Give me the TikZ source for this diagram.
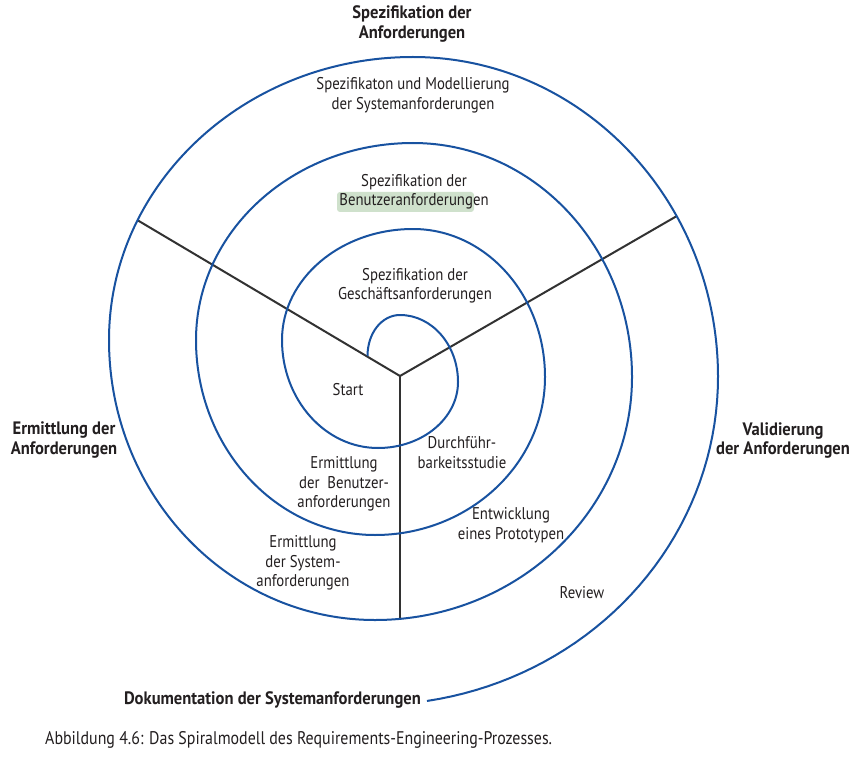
\documentclass[tikz,border=0pt]{standalone}
\usepackage{fontspec}
\setmainfont[FakeStretch=0.87]{PT Sans}
\newfontface\bsans[FakeStretch=0.92]{PT Sans Bold}
\definecolor{spiralc}{RGB}{24,82,160}
\definecolor{rayc}{RGB}{50,50,50}
\definecolor{txtc}{RGB}{35,31,32}
\definecolor{hlc}{RGB}{207,225,204}
\begin{document}
\begin{tikzpicture}[x=1pt,y=-1pt,
  spiralline/.style={draw=spiralc,line width=2pt},
  rayline/.style={draw=rayc,line width=2pt},
  lbl/.style={font=\fontsize{17}{19.5}\selectfont,align=center,inner sep=0pt,text=txtc},
  blbl/.style={font=\fontsize{18}{19.5}\selectfont\bsans,align=center,inner sep=0pt,text=txtc}]
\useasboundingbox (0,0) rectangle (858,767);
\fill[white] (0,0) rectangle (858,767);
% highlight
\fill[hlc,rounded corners=3pt] (337,192) rectangle (474,212);
% radial lines
\coordinate (O) at (400,376);
\coordinate (eL) at (138,220.5);
\coordinate (eR) at (676,216.5);
\coordinate (eB) at (400,619);
\draw[rayline] (O) -- (eL);
\draw[rayline] (O) -- (eR);
\draw[rayline] (O) -- (eB);
% spiral
\draw[spiralline] (367.5,356) .. controls (367.5,333) and (381.8,315) .. (400,315)
 .. controls (432,315) and (458,345) .. (458,382)
 .. controls (458,418.4) and (422.2,448) .. (378,448)
 .. controls (325,448) and (282,399.6) .. (282,340)
 .. controls (282,278.7) and (340.7,229) .. (413,229)
 .. controls (485.9,229) and (545,295.3) .. (545,377)
 .. controls (545,464.2) and (468.8,535) .. (375,535)
 .. controls (276.2,535) and (196,447.6) .. (196,340)
 .. controls (196,231.3) and (293.2,143) .. (413,143)
 .. controls (533.9,143) and (632,247.8) .. (632,377)
 .. controls (632,511.1) and (516.9,620) .. (375,620)
 .. controls (228.2,620) and (109,494.6) .. (109,340)
 .. controls (109,183.8) and (245.2,57) .. (413,57)
 .. controls (581.4,57) and (718,200.4) .. (718,377)
 -- plot[domain=0:81,samples=40,variable=\t] ({373+345*cos(\t)},{377+328*sin(\t)});
% labels
\node[blbl] (title) at (412,24) {Spezifikation der\\Anforderungen};
\node[lbl] (sys) at (413,95.5) {Spezifikaton und Modellierung\\der Systemanforderungen};
\node[lbl] (ben) at (414,192) {Spezifikation der\\Benutzeranforderungen};
\node[lbl] (ges) at (415,285.5) {Spezifikation der\\Geschäftsanforderungen};
\node[lbl] (start) at (348,390) {Start};
\node[lbl] (durch) at (462,452.5) {Durchführ-\\barkeitsstudie};
\node[lbl] (ermben) at (344,484) {Ermittlung\\der~~Benutzer-\\anforderungen};
\node[lbl] (ermsys) at (303,563) {Ermittlung\\der System-\\anforderungen};
\node[lbl] (entw) at (511,525) {Entwicklung\\eines Prototypen};
\node[lbl] (review) at (582,593) {Review};
\node[blbl] (valid) at (783,440.5) {Validierung\\der Anforderungen};
\node[blbl] (ermanf) at (64,440) {Ermittlung der\\Anforderungen};
\node[blbl,anchor=east] (doku) at (421,700) {Dokumentation der Systemanforderungen};
\node[lbl,anchor=west,font=\fontsize{18.3}{20}\selectfont] (cap) at (45,740) {Abbildung 4.6: Das Spiralmodell des Requirements-Engineering-Prozesses.};
\end{tikzpicture}
\end{document}
